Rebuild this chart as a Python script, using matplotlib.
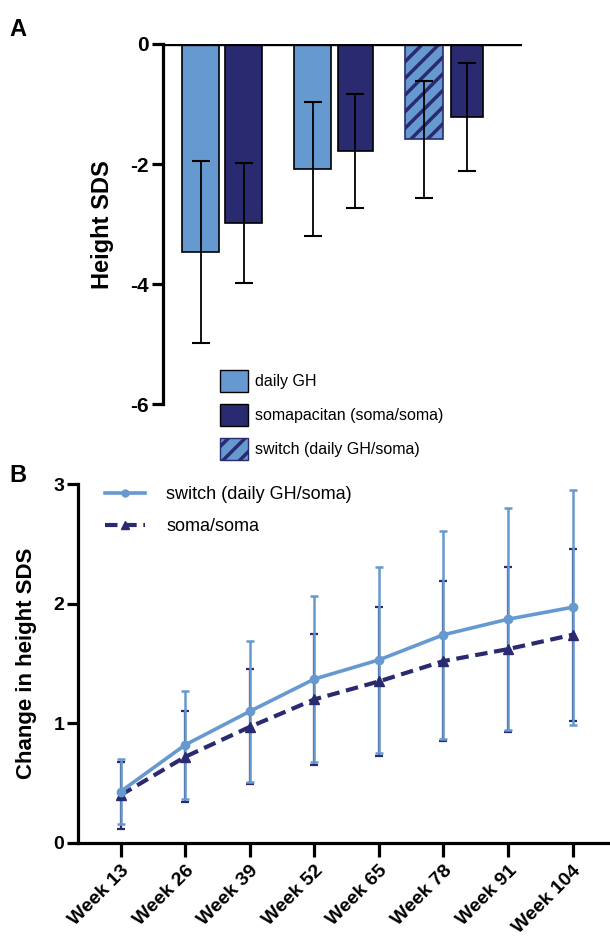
import numpy as np
import matplotlib
matplotlib.use('Agg')
import matplotlib.pyplot as plt
from matplotlib.patches import Patch
from matplotlib.lines import Line2D

plt.rcParams['font.family'] = ['Liberation Sans', 'DejaVu Sans']
plt.rcParams['hatch.linewidth'] = 2.5

light = '#6699CF'
dark = '#2A2A70'

# panel A: three pairs of bars (mean +/- SD)
bar_labels = ['daily GH', 'somapacitan (soma/soma)', 'switch (daily GH/soma)']
group_pos = [1.6, 4.62, 7.63]
bar_means = [-3.46, -2.98, -2.08, -1.78, -1.59, -1.21]
bar_sd = [1.52, 1.00, 1.12, 0.95, 0.97, 0.90]

# panel B: change in height SDS over time
weeks = ['Week 13', 'Week 26', 'Week 39', 'Week 52',
         'Week 65', 'Week 78', 'Week 91', 'Week 104']
switch_mean = [0.43, 0.82, 1.10, 1.37, 1.53, 1.74, 1.87, 1.97]
switch_sd = [0.27, 0.45, 0.59, 0.69, 0.78, 0.87, 0.93, 0.98]
soma_mean = [0.40, 0.72, 0.97, 1.20, 1.35, 1.52, 1.62, 1.74]
soma_sd = [0.28, 0.38, 0.48, 0.55, 0.62, 0.67, 0.69, 0.72]

fig = plt.figure(figsize=(6.1, 9.36), dpi=100)

# ---------- panel A ----------
axA = fig.add_axes([0.267, 0.568, 0.589, 0.385])
off = 0.58
xs = []
for g in group_pos:
    xs += [g - off, g + off]
fills = [light, dark, light, dark, light, dark]
widths = [1.0, 1.0, 1.0, 0.95, 1.0, 0.85]
for i in range(6):
    if i == 4:
        axA.bar(xs[i], bar_means[i], width=widths[i], color=light,
                edgecolor=dark, hatch='//', linewidth=1.2, zorder=2)
    else:
        axA.bar(xs[i], bar_means[i], width=widths[i], color=fills[i],
                edgecolor='black', linewidth=1.2, zorder=2)
axA.errorbar(xs, bar_means, yerr=bar_sd, fmt='none', ecolor='black',
             elinewidth=1.3, capsize=6.5, capthick=1.5, zorder=3)

# zero line with small dotted ticks on it
axA.axhline(0, color='black', lw=2.4, zorder=4)
axA.axhline(0.05, color='black', lw=1.8, ls=(0, (1.0, 3.0)), zorder=5)
axA.set_xlim(0, 9.7)
axA.set_ylim(-6, 0)
axA.set_yticks([0, -2, -4, -6])
axA.set_yticklabels(['0', '-2', '-4', '-6'], fontweight='bold', fontsize=15)
axA.set_xticks([])
for s in ['top', 'right', 'bottom']:
    axA.spines[s].set_visible(False)
axA.spines['left'].set_linewidth(2.3)
axA.tick_params(axis='y', width=2.3, length=8, pad=2)
axA.set_ylabel('Height SDS', fontweight='bold', fontsize=17, labelpad=12)

handlesA = [Patch(facecolor=light, edgecolor='black', label=bar_labels[0]),
            Patch(facecolor=dark, edgecolor='black', label=bar_labels[1]),
            Patch(facecolor=light, edgecolor=dark, hatch='//', label=bar_labels[2])]
fig.legend(handles=handlesA, loc='upper left', bbox_to_anchor=(0.337, 0.62),
           frameon=False, fontsize=11.5, handlelength=1.75, handleheight=1.75,
           labelspacing=0.75, handletextpad=0.45)

# ---------- panel B ----------
axB = fig.add_axes([0.128, 0.0994, 0.872, 0.3835])
x = np.arange(len(weeks))
axB.errorbar(x, soma_mean, yerr=soma_sd, fmt='none', ecolor=dark,
             elinewidth=1.6, capsize=3, capthick=1.6, zorder=2)
axB.errorbar(x, switch_mean, yerr=switch_sd, fmt='none', ecolor=light,
             elinewidth=1.8, capsize=3, capthick=1.8, zorder=3)
axB.plot(x, soma_mean, color=dark, lw=3, ls=(0, (3, 1.6)), marker='^',
         markersize=7, zorder=4, label='soma/soma')
axB.plot(x, switch_mean, color=light, lw=2.6, marker='o', markersize=6,
         zorder=5, label='switch (daily GH/soma)')

axB.set_xlim(-0.66, 7.58)
axB.set_ylim(0, 3)
axB.set_yticks([0, 1, 2, 3])
axB.set_yticklabels(['0', '1', '2', '3'], fontweight='bold', fontsize=14)
axB.set_xticks(x)
axB.set_xticklabels(weeks, rotation=45, ha='right', rotation_mode='anchor',
                    fontweight='bold', fontsize=14)
for s in ['top', 'right']:
    axB.spines[s].set_visible(False)
axB.spines['left'].set_linewidth(2.3)
axB.spines['bottom'].set_linewidth(2.3)
axB.tick_params(axis='y', width=2.3, length=8, pad=2)
axB.tick_params(axis='x', width=2.3, length=10, pad=4)
axB.set_ylabel('Change in height SDS', fontweight='bold', fontsize=16, labelpad=12)

handlesB = [Line2D([], [], color=light, lw=2.6, marker='o', markersize=5),
            Line2D([], [], color=dark, lw=3, ls=(0, (3, 1.6)), marker='^', markersize=6)]
axB.legend(handlesB, ['switch (daily GH/soma)', 'soma/soma'], loc='upper left',
           bbox_to_anchor=(0.02, 1.04), frameon=False, fontsize=13,
           handlelength=2.2, handletextpad=1.2, labelspacing=0.85)

fig.text(0.016, 0.968, 'A', fontsize=17, fontweight='bold', va='center')
fig.text(0.016, 0.492, 'B', fontsize=17, fontweight='bold', va='center')

fig.savefig('out.png', dpi=100)
